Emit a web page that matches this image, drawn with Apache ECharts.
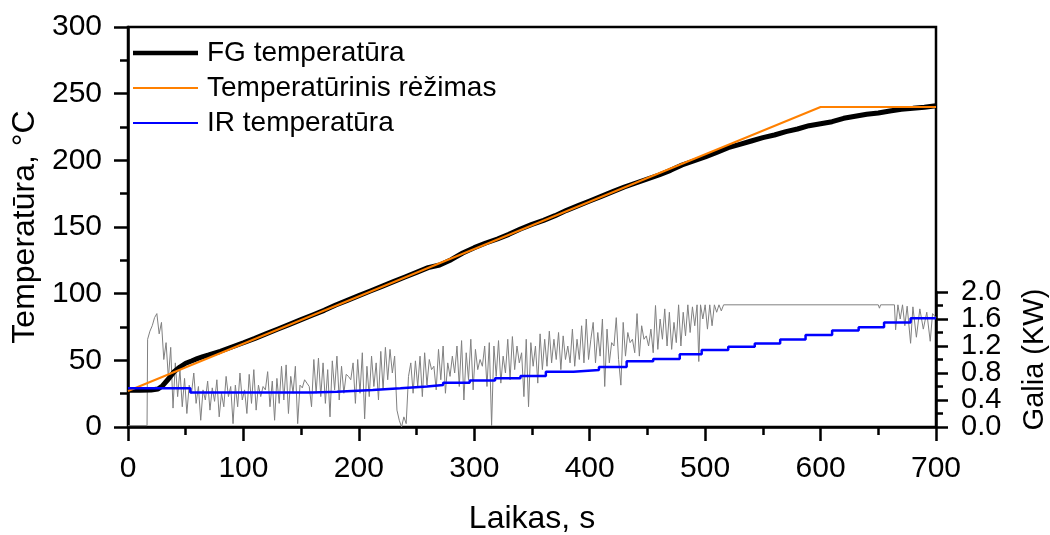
<!DOCTYPE html>
<html>
<head>
<meta charset="utf-8">
<script src="https://cdn.jsdelivr.net/npm/echarts@6/dist/echarts.min.js"></script>
<style>
  html, body { margin: 0; padding: 0; background: #fff; }
  #chart { width: 1050px; height: 535px; }
</style>
</head>
<body>
<div id="chart"></div>
<script>
// Time axis ticks (s), temperature ticks (°C), power ticks (kW)
const timeTicks = [0, 100, 200, 300, 400, 500, 600, 700];
const tempTicks = [0, 50, 100, 150, 200, 250, 300];
const powerTicks = [0.0, 0.4, 0.8, 1.2, 1.6, 2.0];

const legendNames = ['FG temperatūra', 'Temperatūrinis rėžimas', 'IR temperatūra'];

// FG temperature, [time s, °C]
const fgPoints = [
  [0, 27.5], [10, 27.5], [20, 27.8], [26, 28.5], [30, 31], [35, 36], [40, 41.5], [45, 45],
  [50, 47.8], [55, 49.5], [60, 51.3], [65, 52.8], [70, 54], [80, 56.8], [90, 60], [100, 63.2],
  [110, 66.5], [120, 70], [130, 73.5], [140, 77], [150, 80.5], [160, 84], [170, 87.5],
  [180, 91.5], [190, 95], [200, 98.5], [210, 102], [220, 105.5], [230, 109], [240, 112.5],
  [250, 116], [260, 119.5], [270, 121.5], [280, 125.5], [290, 130.5], [300, 134.5],
  [310, 138], [320, 141], [330, 144.5], [340, 148.5], [350, 152], [360, 155], [370, 158.5],
  [380, 162.5], [390, 166], [400, 169.5], [410, 173], [420, 176.5], [430, 180], [440, 183],
  [450, 186], [460, 189], [470, 192.5], [480, 196.5], [490, 199.5], [500, 202.5],
  [510, 206], [520, 209.5], [530, 212], [540, 214.5], [550, 217], [560, 219], [570, 221.5],
  [580, 223.5], [590, 226], [600, 227.5], [610, 229], [620, 231.5], [630, 233],
  [640, 234.5], [650, 235.5], [660, 237], [670, 238.3], [680, 239], [690, 239.8], [700, 241]
];

// Programmed heating regime, [time s, °C]
const regimePoints = [[0, 27], [600, 240], [700, 240]];

// IR temperature plateaus, [start time s, °C]
const irSteps = [
  [0, 29.0], [54, 25.8], [160, 26.5], [181, 27.7], [212, 29.0], [236, 30.3], [259, 31.5],
  [273, 33.2], [296, 34.8], [318, 36.5], [340, 38.2], [362, 41.5], [386, 42.7], [408, 45.0],
  [432, 49.3], [455, 51.0], [478, 54.5], [497, 57.7], [520, 60.2], [543, 62.7], [565, 65.7],
  [587, 69.0], [610, 72.3], [633, 74.8], [655, 78.3], [678, 81.5], [700, 81.5]
];

// Heater power, [time s, kW]
const powerPoints = [
  [0, 0.02], [16.5, 0.02], [17, 1.30], [19, 1.42], [21, 1.50], [23, 1.62], [25, 1.68], [27, 1.38],
  [29, 1.55], [31, 1.00], [33, 1.25], [35, 0.72], [37, 1.18], [39, 0.28], [41, 0.95], [43, 0.45],
  [45, 0.85], [47, 0.30], [49, 0.72], [51, 0.20], [53, 0.62], [55, 0.50], [57, 0.80], [59, 0.35],
  [61, 0.60], [63, 0.10], [65, 0.55], [67, 0.40], [69, 0.68], [71, 0.25], [73, 0.58], [75, 0.38],
  [77, 0.70], [79, 0.15], [81, 0.50], [83, 0.30], [85, 0.75], [87, 0.45], [89, 0.60], [91, 0.05],
  [93, 0.62], [95, 0.30], [97, 0.80], [99, 0.40], [101, 0.55], [103, 0.20], [105, 0.78], [107, 0.35],
  [109, 0.85], [111, 0.25], [113, 0.62], [115, 0.45], [117, 0.60], [119, 0.55], [121, 0.82], [123, 0.30],
  [125, 0.68], [127, 0.10], [129, 0.72], [131, 0.35], [133, 0.90], [135, 0.40], [137, 0.92], [139, 0.20],
  [141, 0.75], [143, 0.50], [145, 0.90], [147, 0.05], [149, 0.62], [151, 0.58], [153, 0.70], [155, 0.65],
  [157, 0.60], [159, 0.30], [161, 1.00], [163, 0.50], [165, 1.02], [167, 0.45], [169, 0.95], [171, 0.35],
  [173, 0.85], [175, 0.15], [177, 0.98], [179, 0.55], [181, 1.05], [183, 0.40], [185, 0.90], [187, 0.50],
  [189, 0.78], [191, 0.75], [193, 0.70], [195, 0.95], [197, 0.35], [199, 1.00], [201, 0.50], [203, 1.10],
  [205, 0.12], [207, 0.90], [209, 0.45], [211, 1.05], [213, 0.60], [215, 0.95], [217, 0.40], [219, 1.12],
  [221, 0.55], [223, 1.18], [225, 0.70], [227, 1.15], [229, 0.80], [231, 1.05], [233, 0.25], [235, 0.10],
  [237, 0.00], [239, 0.15], [241, 0.05], [243, 0.75], [245, 0.95], [247, 0.50], [249, 0.98], [251, 0.60],
  [253, 1.05], [255, 0.45], [257, 1.10], [259, 0.62], [261, 1.00], [263, 0.85], [265, 0.90], [267, 0.55],
  [269, 1.15], [271, 0.70], [273, 1.20], [275, 0.50], [277, 0.95], [279, 0.75], [281, 1.05], [283, 0.80],
  [285, 1.20], [287, 0.60], [289, 1.28], [291, 0.40], [293, 1.10], [295, 0.70], [297, 1.30], [299, 0.55],
  [301, 1.15], [303, 0.85], [305, 1.00], [307, 0.90], [309, 1.20], [311, 0.60], [313, 1.25], [315, 0.02],
  [317, 1.20], [319, 0.75], [321, 1.28], [323, 0.65], [325, 1.05], [327, 0.80], [329, 1.30], [331, 0.70],
  [333, 1.34], [335, 0.85], [337, 1.20], [339, 0.95], [341, 1.10], [343, 0.45], [345, 1.30], [347, 0.30],
  [349, 1.25], [351, 0.90], [353, 1.20], [355, 0.65], [357, 1.38], [359, 0.85], [361, 1.30], [363, 0.90],
  [365, 1.42], [367, 0.95], [369, 1.30], [371, 1.00], [373, 1.40], [375, 0.85], [377, 1.35], [379, 1.00],
  [381, 1.20], [383, 0.95], [385, 1.45], [387, 0.90], [389, 1.30], [391, 1.00], [393, 1.50], [395, 0.95],
  [397, 1.60], [399, 1.00], [401, 1.30], [403, 1.55], [405, 0.95], [407, 1.40], [409, 1.05], [411, 1.60],
  [413, 0.60], [415, 1.45], [417, 0.95], [419, 1.25], [421, 1.20], [423, 1.62], [425, 1.00], [427, 0.62],
  [429, 1.55], [431, 1.05], [433, 1.40], [435, 1.25], [437, 1.30], [439, 1.10], [441, 1.68], [443, 1.05],
  [445, 1.50], [447, 1.30], [449, 1.35], [451, 1.20], [453, 1.45], [455, 1.10], [457, 1.80], [459, 1.15],
  [461, 1.60], [463, 1.30], [465, 1.75], [467, 1.20], [469, 1.70], [471, 1.15], [473, 1.55], [475, 1.25],
  [477, 1.81], [479, 1.20], [481, 1.70], [483, 1.35], [485, 1.81], [487, 1.40], [489, 1.78], [491, 1.50],
  [493, 1.81], [494.5, 0.97], [496, 1.81], [498, 1.60], [500, 1.81], [502, 1.45], [504, 1.81], [506, 1.50],
  [508, 1.81], [510, 1.70], [512, 1.81], [514, 1.72], [516, 1.81], [650, 1.81], [651, 1.76], [652, 1.81],
  [664, 1.81], [665, 1.44], [667, 1.81], [669, 1.60], [671, 1.81], [673, 1.50], [675, 1.79], [678, 1.24],
  [680, 1.78], [683, 1.33], [686, 1.75], [689, 1.45], [692, 1.70], [695, 1.27], [697, 1.68], [700, 1.62]
];

const FONT = "'Liberation Sans', Arial, Helvetica, sans-serif";
const INK = '#000';
const FG_COLOR = '#000';
const REGIME_COLOR = '#ff8000';
const IR_COLOR = '#0000ff';
const POWER_COLOR = '#808080';

const axisLine = { show: true, onZero: false, lineStyle: { color: INK, width: 2.5 } };
const majorTick = { show: true, inside: false, length: 14, lineStyle: { color: INK, width: 2.5 } };
const minorTick = { show: true, splitNumber: 2, length: 8, lineStyle: { color: INK, width: 2.5 } };

// Power labels sit closer together than their font height, so they are split
// over two overlaid right-hand axes (alternate labels on each)
const powerLabelsA = powerTicks.filter((v, i) => i % 2 === 0);
const powerLabelsB = powerTicks.filter((v, i) => i % 2 === 1);
const powerLabel = extra => Object.assign({
  fontSize: 29, margin: 25, color: INK, fontFamily: FONT,
  showMinLabel: true, showMaxLabel: true,
  formatter: v => v.toFixed(1)
}, extra);

// Legend keys drawn as plain strokes of each series' thickness
const strokeIcon = h => 'path://M0,0H65V' + h + 'H0Z';

const chart = echarts.init(document.getElementById('chart'), null, { renderer: 'canvas' });

chart.setOption({
  animation: false,
  backgroundColor: '#fff',
  textStyle: { fontFamily: FONT },
  grid: [
    { left: 128, right: 114, top: 27, bottom: 108, outerBoundsMode: 'none', containLabel: false,
      show: true, borderColor: INK, borderWidth: 2.5 },
    { left: 128, right: 114, top: 292, bottom: 108, outerBoundsMode: 'none', containLabel: false }
  ],
  legend: {
    data: [
      { name: legendNames[0], icon: strokeIcon(4.5) },
      { name: legendNames[1], icon: strokeIcon(2) },
      { name: legendNames[2], icon: strokeIcon(2) }
    ],
    orient: 'vertical',
    left: 133,
    top: 39,
    padding: 0,
    itemWidth: 65,
    itemHeight: 27,
    itemGap: 7,
    textStyle: { fontSize: 28, color: INK, fontFamily: FONT, padding: [0, 0, 0, 4] }
  },
  xAxis: [
    {
      gridIndex: 0, type: 'value',
      min: timeTicks[0], max: timeTicks[timeTicks.length - 1], interval: timeTicks[1] - timeTicks[0],
      name: 'Laikas, s', nameLocation: 'middle', nameGap: 76,
      nameTextStyle: { fontSize: 32, color: INK, fontFamily: FONT },
      axisLine: axisLine, axisTick: majorTick, minorTick: minorTick,
      axisLabel: { fontSize: 30, margin: 27, color: INK, fontFamily: FONT, showMinLabel: true, showMaxLabel: true },
      splitLine: { show: false }, minorSplitLine: { show: false }
    },
    { gridIndex: 1, type: 'value', min: 0, max: 700, show: false }
  ],
  yAxis: [
    {
      gridIndex: 0, type: 'value', position: 'left',
      min: tempTicks[0], max: tempTicks[tempTicks.length - 1], interval: tempTicks[1] - tempTicks[0],
      name: 'Temperatūra, °C', nameLocation: 'middle', nameGap: 84,
      nameTextStyle: { fontSize: 32, color: INK, fontFamily: FONT },
      axisLine: axisLine, axisTick: majorTick, minorTick: minorTick,
      axisLabel: { fontSize: 30, margin: 26, color: INK, fontFamily: FONT, showMinLabel: true, showMaxLabel: true },
      splitLine: { show: false }, minorSplitLine: { show: false }
    },
    {
      gridIndex: 1, type: 'value', position: 'right', offset: 0,
      min: powerTicks[0], max: powerTicks[powerTicks.length - 1], interval: powerTicks[1] - powerTicks[0],
      name: 'Galia (KW)', nameLocation: 'middle', nameGap: 84,
      nameTextStyle: { fontSize: 29, color: INK, fontFamily: FONT },
      axisLine: axisLine,
      axisTick: { show: true, inside: false, length: 12, lineStyle: { color: INK, width: 2.5 } },
      minorTick: { show: true, splitNumber: 2, length: 7, lineStyle: { color: INK, width: 2.5 } },
      axisLabel: powerLabel({ customValues: powerLabelsA }),
      splitLine: { show: false }, minorSplitLine: { show: false }
    },
    {
      gridIndex: 1, type: 'value', position: 'right', offset: 0,
      min: powerTicks[0], max: powerTicks[powerTicks.length - 1], interval: powerTicks[1] - powerTicks[0],
      axisLine: { show: false }, axisTick: { show: false }, minorTick: { show: false },
      axisLabel: powerLabel({ customValues: powerLabelsB }),
      splitLine: { show: false }, minorSplitLine: { show: false }
    }
  ],
  series: [
    {
      name: 'Galia', type: 'line', xAxisIndex: 1, yAxisIndex: 1,
      data: powerPoints, symbol: 'none', silent: true,
      lineStyle: { color: POWER_COLOR, width: 1 }, itemStyle: { color: POWER_COLOR }
    },
    {
      name: legendNames[0], type: 'line', xAxisIndex: 0, yAxisIndex: 0,
      data: fgPoints, symbol: 'none',
      lineStyle: { color: FG_COLOR, width: 5 }, itemStyle: { color: FG_COLOR }
    },
    {
      name: legendNames[1], type: 'line', xAxisIndex: 0, yAxisIndex: 0,
      data: regimePoints, symbol: 'none',
      lineStyle: { color: REGIME_COLOR, width: 2 }, itemStyle: { color: REGIME_COLOR }
    },
    {
      name: legendNames[2], type: 'line', xAxisIndex: 0, yAxisIndex: 0,
      data: irSteps, symbol: 'none', step: 'end',
      lineStyle: { color: IR_COLOR, width: 2.5 }, itemStyle: { color: IR_COLOR }
    }
  ]
});
</script>
</body>
</html>
